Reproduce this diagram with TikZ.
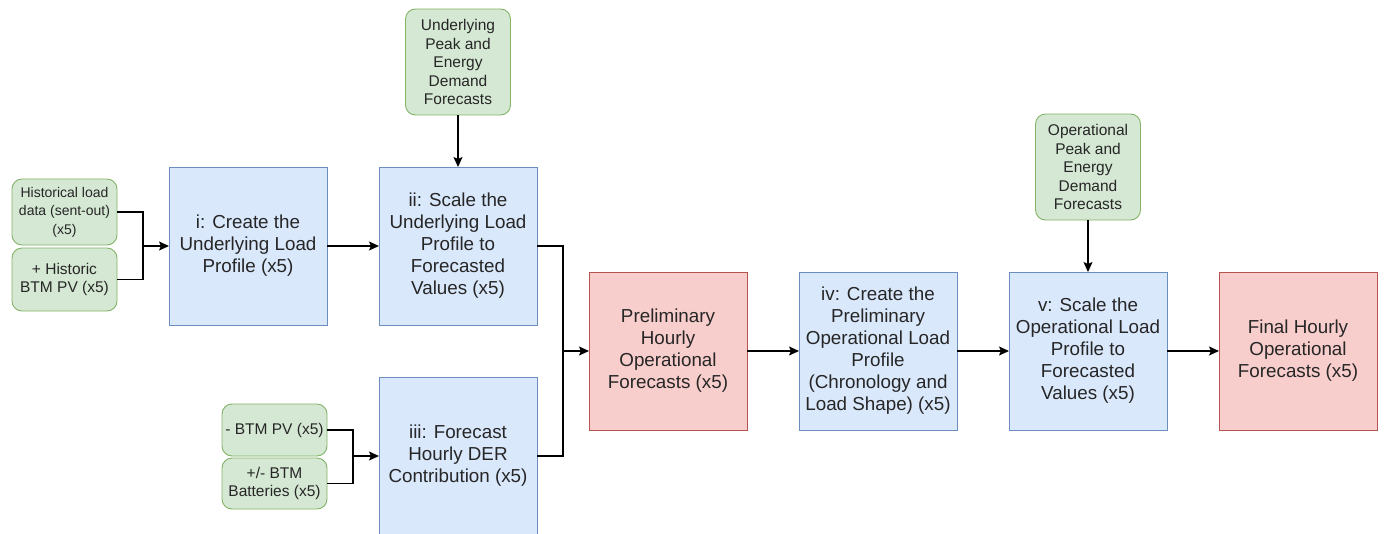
\documentclass[tikz,border=0pt]{standalone}
\usepackage{fontspec}
\setmainfont{Liberation Sans}
\usetikzlibrary{positioning, arrows.meta, calc}

\definecolor{blueFill}{HTML}{DAE8FC}
\definecolor{blueLine}{HTML}{6C8EBF}
\definecolor{greenFill}{HTML}{D5E8D4}
\definecolor{greenLine}{HTML}{82B366}
\definecolor{redFill}{HTML}{F8CECC}
\definecolor{redLine}{HTML}{B85450}
\definecolor{txt}{HTML}{262626}

\begin{document}
\begin{tikzpicture}[x=1pt, y=-1pt,
        block/.style={draw=blueLine, fill=blueFill, rectangle, line width=0.9pt, outer sep=0pt, minimum width=158pt, minimum height=158pt, inner sep=2pt, align=center, text=txt, font=\fontsize{18.8}{22}\selectfont},
        result/.style={block, draw=redLine, fill=redFill},
        input/.style={draw=greenLine, fill=greenFill, rounded corners=10pt, line width=0.9pt, outer sep=0pt, minimum width=105pt, inner sep=1pt, align=center, text=txt, font=\fontsize{15.5}{18.5}\selectfont},
        node distance=52pt, line width=1.3pt, >={Stealth[length=10pt, width=9pt, inset=2pt]}]

        \useasboundingbox (0,0) rectangle (1384,533);

        % Blocos do primeiro estágio
        \node (i) [block] at (248,246) {i: Create the\\Underlying Load\\Profile (x5)};
        \node (ii) [block, right=of i] {ii: Scale the\\Underlying Load\\Profile to\\Forecasted\\Values (x5)};
        \node (iii) [block, below=of ii] {iii: Forecast\\Hourly DER\\Contribution (x5)};
        \node (under) [input, minimum height=106pt, above=of ii] {Underlying\\Peak and\\Energy\\Demand\\Forecasts};

        % Entradas
        \node (hist) [input, minimum height=66pt, left=of i, yshift=34pt, font=\fontsize{14}{18.5}\selectfont] {Historical load\\data (sent-out)\\(x5)};
        \node (btm) [input, minimum height=63pt, below=3pt of hist] {+ Historic\\BTM PV (x5)};
        \node (btmpv) [input, minimum height=52pt, left=of iii, yshift=26pt] {- BTM PV (x5)};
        \node (batt) [input, minimum height=51pt, below=2pt of btmpv] {+/- BTM\\Batteries (x5)};

        % Segundo estágio
        \coordinate (j3) at ($(ii.east)!0.5!(iii.east)+(26pt,0)$);
        \node (prelim) [result, right=26pt of j3] {Preliminary\\Hourly\\Operational\\Forecasts (x5)};
        \node (iv) [block, right=of prelim] {iv: Create the\\Preliminary\\Operational Load\\Profile\\(Chronology and\\Load Shape) (x5)};
        \node (v) [block, right=of iv] {v: Scale the\\Operational Load\\Profile to\\Forecasted\\Values (x5)};
        \node (oper) [input, minimum height=106pt, above=of v] {Operational\\Peak and\\Energy\\Demand\\Forecasts};
        \node (final) [result, right=of v] {Final Hourly\\Operational\\Forecasts (x5)};

        % Junções
        \coordinate (j1) at ($(i.west)+(-26pt,0)$);
        \coordinate (j2) at ($(iii.west)+(-26pt,0)$);

        % Conexões
        \draw (hist) -| (j1);
        \draw (btm) -| (j1);
        \draw[->] (j1) -- (i);
        \draw[->] (i) -- (ii);
        \draw[->] (under) -- (ii);
        \draw (btmpv) -| (j2);
        \draw (batt) -| (j2);
        \draw[->] (j2) -- (iii);
        \draw (ii) -| (j3);
        \draw (iii) -| (j3);
        \draw[->] (j3) -- (prelim);
        \draw[->] (prelim) -- (iv);
        \draw[->] (iv) -- (v);
        \draw[->] (oper) -- (v);
        \draw[->] (v) -- (final);

    \end{tikzpicture}
\end{document}
